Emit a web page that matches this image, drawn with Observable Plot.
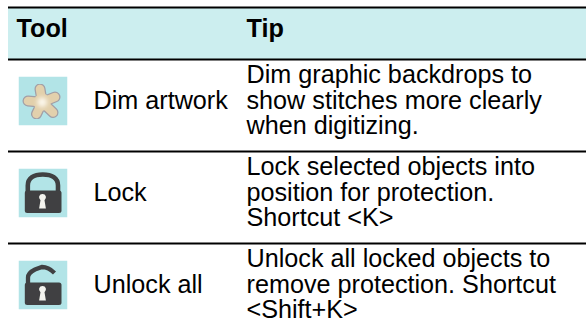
<!DOCTYPE html>
<html><head><meta charset="utf-8">
<script src="https://cdn.jsdelivr.net/npm/d3@7"></script>
<script src="https://cdn.jsdelivr.net/npm/@observablehq/plot@0.6"></script>
<style>html,body{margin:0;padding:0;background:#fff}svg{display:block}</style>
</head><body><script>
const headers = ["Tool", "Tip"];
const tools = ["Dim artwork", "Lock", "Unlock all"];
const tips = [
  "Dim graphic backdrops to\nshow stitches more clearly\nwhen digitizing.",
  "Lock selected objects into\nposition for protection.\nShortcut <K>",
  "Unlock all locked objects to\nremove protection. Shortcut\n<Shift+K>"
];
const ruleRows = [0, 1, 2, 3];

const tile = inner => "data:image/svg+xml," + encodeURIComponent(
  `<svg xmlns="http://www.w3.org/2000/svg" width="49" height="49" viewBox="0 0 49 49"><defs><filter id="b" x="-20%" y="-20%" width="140%" height="140%"><feGaussianBlur stdDeviation="0.6"/></filter><filter id="c" x="-60%" y="-60%" width="220%" height="220%"><feGaussianBlur stdDeviation="2"/></filter></defs><rect width="49" height="49" fill="#b2e4e7"/><g filter="url(#b)">${inner}</g></svg>`);
const spokes = "M23.7 25.7L21.500 12.500M23.700 25.700L36.500 20.500M23.700 25.700L34.500 36M23.700 25.700L18 37.500M23.700 25.700L9.500 24.500";
const bodyLock = `<rect x="6.3" y="22" width="36.7" height="22.5" rx="2.5" fill="#3f4142"/><path d="M24 25.5a3.4 3.4 0 0 0-2 6.2l-1.4 8.3h6.8l-1.4-8.3a3.4 3.4 0 0 0-2-6.2z" fill="#f4f4ef"/>`;
const icons = [
  tile(`<path d="${spokes}" fill="none" stroke="#a29fa6" stroke-width="11" stroke-linecap="round"/><path d="${spokes}" fill="none" stroke="#e2d0ac" stroke-width="8.500" stroke-linecap="round"/><circle cx="23.7" cy="25.7" r="8.500" fill="#e2d0ac"/><circle cx="23.7" cy="25.7" r="5" fill="#fbf6ea" filter="url(#c)"/>`),
  tile(`<path d="M9.3 24v-7c0-7.5 6-11 15-11s15.200 3.500 15.200 11v7" fill="none" stroke="#3f4142" stroke-width="4.600"/>${bodyLock}`),
  tile(`<path d="M9.500 25v-8c0-4 3-6 7-8l7-2.500c4 0 9 2.500 12.500 6" fill="none" stroke="#3f4142" stroke-width="4.300"/>${bodyLock}`)
];

const rows = tools.map((tool, i) => ({tool, tip: tips[i], icon: icons[i], row: i + 1}));
const fontSize = 25.2;

const chart = Plot.plot({
  width: 586, height: 333,
  margin: 0,
  x: {type: "linear", domain: [0, 1, 2, 3], range: [8, 93, 246, 586], axis: null},
  y: {type: "linear", domain: [0, 1, 2, 3, 4], range: [7, 59, 151, 243, 335], axis: null},
  style: {fontFamily: "'Liberation Sans', Arial, sans-serif", background: "#fff"},
  marks: [
    Plot.rect([0], {x1: 0, x2: 3, y1: 0, y2: 1, fill: "#cceeef"}),
    Plot.ruleY(ruleRows, {x1: 0, x2: 3, y: d => d, stroke: "#000", strokeWidth: 2}),
    Plot.text([headers[0]], {x: 0, y: 0.5, text: d => d, dx: 8, dy: -5, textAnchor: "start", fontSize, fontWeight: "bold", fill: "#000"}),
    Plot.text([headers[1]], {x: 2, y: 0.5, text: d => d, dy: -5, textAnchor: "start", fontSize, fontWeight: "bold", fill: "#000"}),
    Plot.image(rows, {x: 0, y: d => d.row + 0.5, src: "icon", width: 49, height: 49, dx: 34.5, dy: -4.5}),
    Plot.text(rows, {x: 1, y: d => d.row + 0.5, text: "tool", dy: -5, textAnchor: "start", fontSize, fill: "#000"}),
    Plot.text(rows, {x: 2, y: d => d.row + 0.5, text: "tip", dy: -5, textAnchor: "start", fontSize, lineHeight: 1.01, fill: "#000"})
  ]
});
document.body.appendChild(chart);
</script></body></html>
